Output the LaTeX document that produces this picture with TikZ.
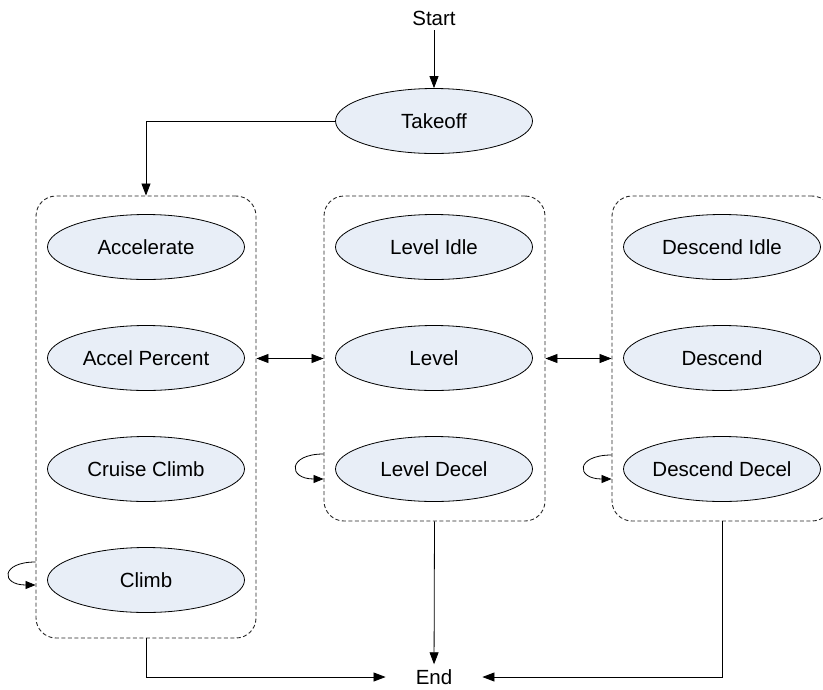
\documentclass[tikz,border=0pt]{standalone}
\usepackage{fontspec}
\setmainfont{Liberation Sans}
\usetikzlibrary{arrows.meta,calc,shapes.geometric}
\definecolor{statefill}{RGB}{232,238,247}
\begin{document}
\begin{tikzpicture}[x=1pt,y=-1pt,
  font=\fontsize{20.5}{24}\selectfont,
  state/.style={ellipse, draw=black, line width=0.8pt, fill=statefill,
    minimum width=197pt, minimum height=65pt, inner sep=0pt},
  group/.style={draw=black!85, dash pattern=on 4pt off 2.5pt, line width=0.9pt,
    rounded corners=20pt, inner sep=0pt},
  conn/.style={line width=0.8pt, -{Triangle[length=12pt,width=9pt]}},
  dconn/.style={line width=0.8pt, {Triangle[length=12pt,width=9pt]}-{Triangle[length=12pt,width=9pt]}},
  loopconn/.style={line width=0.8pt, -{Triangle[length=10pt,width=8pt]}},
  term/.style={inner xsep=30pt, inner ysep=5pt}]
\useasboundingbox (0,0) rectangle (823,689);

% groups
\node[group, minimum width=220pt, minimum height=442pt] (b1) at (146,417) {};
\node[group, minimum width=221pt, minimum height=325pt] (b2) at (434.5,358.5) {};
\node[group, minimum width=220pt, minimum height=325pt] (b3) at (722,358.5) {};

% terminals
\node[term] (start) at (434,18) {Start};
\node[term] (endn) at (434,677) {End};

% states
\node[state] (takeoff) at (434,121) {Takeoff};
\node[state] (a1) at (146,247) {Accelerate};
\node[state] (a2) at (146,358) {Accel Percent};
\node[state] (a3) at (146,469) {Cruise Climb};
\node[state] (a4) at (146,580) {Climb};
\node[state] (l1) at (434,247) {Level Idle};
\node[state] (l2) at (434,358) {Level};
\node[state] (l3) at (434,469) {Level Decel};
\node[state] (d1) at (722,247) {Descend Idle};
\node[state] (d2) at (722,358) {Descend};
\node[state] (d3) at (722,469) {Descend Decel};

% connectors
\draw[conn] (start) -- (takeoff);
\draw[conn] (takeoff.west) -| (b1.north);
\draw[dconn] (b1.east |- b2.west) -- (b2.west);
\draw[dconn] (b2.east) -- (b3.west);
\draw[conn] (b2.south) -- (endn);
\draw[conn] (b1.south) |- (endn.west);
\draw[conn] (b3.south) |- (endn.east);

% self loops
\draw[loopconn] ($(b1.west |- a4.center)+(0,-18)$) .. controls +(-35,0) and +(-35,0) .. ($(b1.west |- a4.center)+(0,5)$);
\draw[loopconn] ($(b2.west |- l3.center)+(0,-15)$) .. controls +(-36,0) and +(-36,0) .. ($(b2.west |- l3.center)+(0,10)$);
\draw[loopconn] ($(b3.west |- d3.center)+(0,-14)$) .. controls +(-36,0) and +(-36,0) .. ($(b3.west |- d3.center)+(0,10)$);
\end{tikzpicture}
\end{document}
